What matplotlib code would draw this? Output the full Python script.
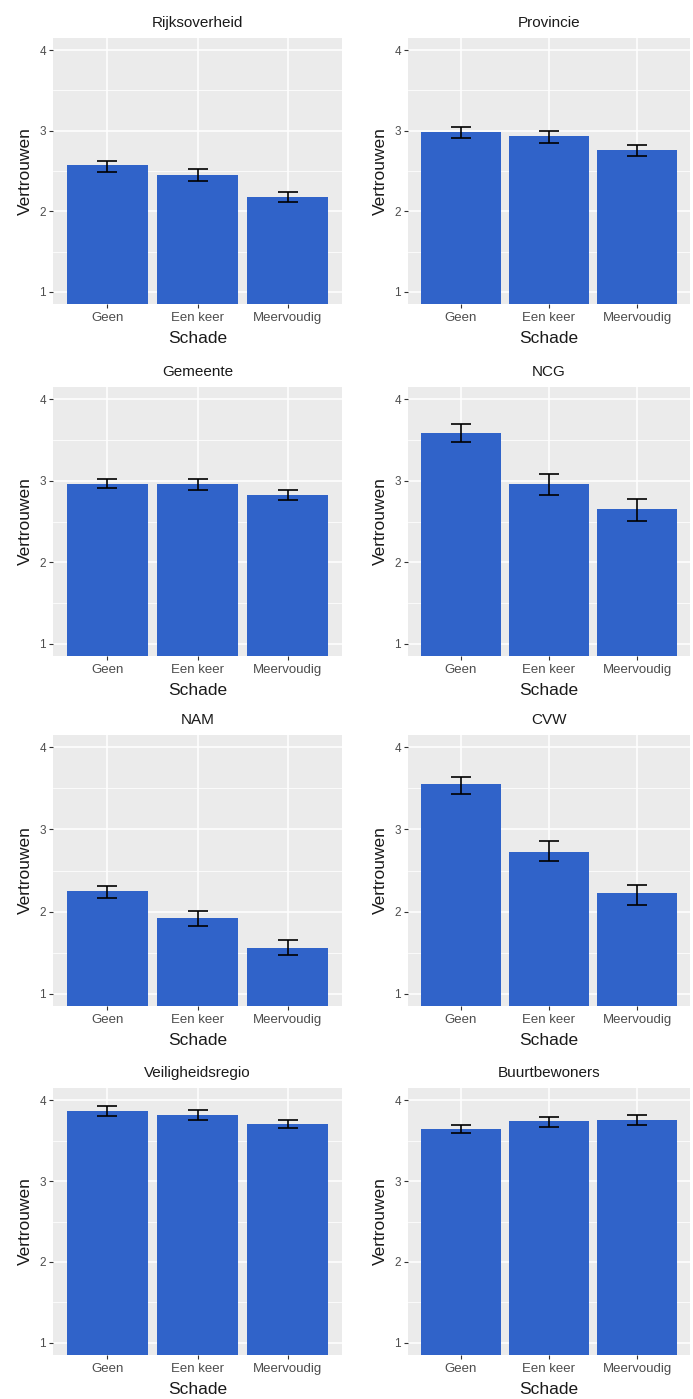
import matplotlib.pyplot as plt
import numpy as np

plt.rcParams['font.family'] = ['Liberation Sans', 'DejaVu Sans']

# categories on the x axis of every panel
categories = ['Geen', 'Een keer', 'Meervoudig']

# panel titles, in reading order (left to right, top to bottom)
panels = ['Rijksoverheid', 'Provincie', 'Gemeente', 'NCG',
          'NAM', 'CVW', 'Veiligheidsregio', 'Buurtbewoners']

# mean trust per panel and category
means = [
    [2.57, 2.45, 2.18],
    [2.98, 2.94, 2.76],
    [2.96, 2.96, 2.83],
    [3.59, 2.96, 2.65],
    [2.25, 1.92, 1.56],
    [3.55, 2.73, 2.22],
    [3.87, 3.82, 3.71],
    [3.64, 3.74, 3.76],
]

# lower and upper ends of the error bars
lower = [
    [2.49, 2.37, 2.11],
    [2.91, 2.85, 2.68],
    [2.91, 2.89, 2.76],
    [3.47, 2.83, 2.51],
    [2.17, 1.83, 1.47],
    [3.43, 2.61, 2.08],
    [3.81, 3.75, 3.65],
    [3.59, 3.67, 3.69],
]
upper = [
    [2.63, 2.53, 2.24],
    [3.04, 3.00, 2.82],
    [3.02, 3.02, 2.89],
    [3.70, 3.08, 2.77],
    [2.31, 2.01, 1.65],
    [3.64, 2.86, 2.32],
    [3.93, 3.88, 3.76],
    [3.69, 3.79, 3.82],
]

bar_color = '#3063C9'
panel_bg = '#EBEBEB'

W, H = 693, 1399
fig = plt.figure(figsize=(W / 100, H / 100), dpi=100)

# panel boxes in pixels: (left, right) per column, (top, bottom) per row
cols = [(53, 342), (408, 690)]
rows = [(38, 304), (387, 656), (735, 1006), (1088, 1355)]

x = np.arange(1, len(categories) + 1)

for i, title in enumerate(panels):
    c0, c1 = cols[i % 2]
    r0, r1 = rows[i // 2]
    ax = fig.add_axes([c0 / W, 1 - r1 / H, (c1 - c0) / W, (r1 - r0) / H])
    ax.set_facecolor(panel_bg)
    for s in ax.spines.values():
        s.set_visible(False)

    m = np.array(means[i])
    lo = m - np.array(lower[i])
    hi = np.array(upper[i]) - m

    ax.bar(x, m, width=0.9, color=bar_color, zorder=2)
    ax.errorbar(x, m, yerr=[lo, hi], fmt='none', ecolor='black',
                elinewidth=1.2, capsize=7.5, capthick=1.2, zorder=3)

    ax.set_xlim(0.4, 3.6)
    ax.set_ylim(0.85, 4.15)
    ax.set_xticks(x)
    ax.set_xticklabels(categories)
    ax.set_yticks([1, 2, 3, 4])
    ax.set_yticks([1.5, 2.5, 3.5], minor=True)
    ax.grid(True, which='major', color='white', linewidth=1.1, zorder=0)
    ax.grid(True, which='minor', axis='y', color='white', linewidth=0.55, zorder=0)
    ax.set_axisbelow(True)
    ax.tick_params(which='major', length=3, width=0.8, color='#333333',
                   labelcolor='#4D4D4D', pad=2)
    ax.tick_params(axis='x', labelsize=9.5, pad=3)
    ax.tick_params(axis='y', labelsize=8.5)
    ax.tick_params(which='minor', length=0)

    ax.set_title(title, fontsize=11, color='#1A1A1A', pad=8)
    ax.set_ylabel('Vertrouwen', fontsize=12.5, color='#1A1A1A', labelpad=5)
    ax.set_xlabel('Schade', fontsize=12.5, color='#1A1A1A', labelpad=5)

fig.savefig('out.png', dpi=100, facecolor='white')
